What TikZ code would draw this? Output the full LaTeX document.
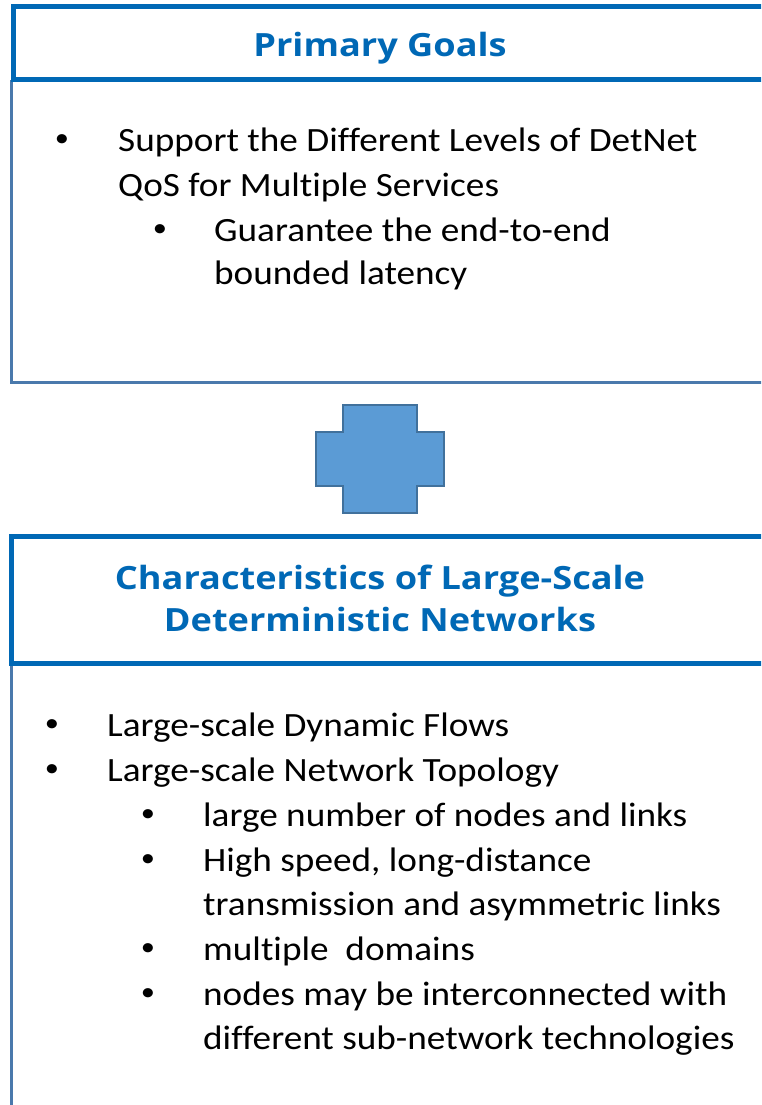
\documentclass[tikz,border=0pt]{standalone}
\usepackage{fontspec}
\setmainfont{Carlito}[FakeStretch=1.095,Ligatures=NoCommon]
\newfontfamily\titlefont{Open Sans}[FakeStretch=1.13]
\definecolor{titleblue}{HTML}{0068B5}
\definecolor{bodyline}{HTML}{4A79AC}
\definecolor{crossfill}{HTML}{5B9BD5}
\definecolor{crossline}{HTML}{41719C}
\tikzset{
  titlebox/.style={draw=titleblue, line width=5pt},
  bodybox/.style={draw=bodyline, line width=3pt},
  titletext/.style={inner sep=0pt, anchor=base, text=titleblue, font=\titlefont\fontsize{32}{42}\selectfont\bfseries},
  bodytext/.style={inner sep=0pt, anchor=base west, font=\fontsize{34}{44}\selectfont},
  bullettext/.style={inner sep=0pt, anchor=center, font=\fontsize{26}{30}\selectfont}
}
\tikzset{
  crossshape/.style={fill=crossfill, draw=crossline, line width=2.5pt, line join=miter}
}
\begin{document}
\begin{tikzpicture}[x=1pt,y=-1pt]
\useasboundingbox (0,0) rectangle (761,1105);
\clip (0,0) rectangle (761,1105);
% top group
\draw[bodybox] (11.5,80) -- (11.5,382.5) -- (800,382.5);
\draw[titlebox] (800,6.5) -- (13.5,6.5) -- (13.5,80) -- (800,80);
\node[titletext] (t1) at (380,57) {Primary Goals};
\node[bullettext] (b1) at (62,141) {•};
\node[bodytext] (l1) at (118,151) {Support the Different Levels of DetNet};
\node[bodytext] (l2) at (118,196) {QoS for Multiple Services};
\node[bullettext] (b2) at (160,231) {•};
\node[bodytext] (l3) at (214,241) {Guarantee the end-to-end};
\node[bodytext] (l4) at (214,284) {bounded latency};
% cross
\draw[crossshape] (316,432) -- (343,432) -- (343,405) -- (417,405) -- (417,432) -- (444,432) -- (444,486) -- (417,486) -- (417,513) -- (343,513) -- (343,486) -- (316,486) -- cycle;
% bottom group
\draw[bodybox] (11.5,663) -- (11.5,1120);
\draw[titlebox] (800,536.5) -- (11.5,536.5) -- (11.5,663) -- (800,663);
\node[titletext] (t2) at (380,589) {Characteristics of Large-Scale};
\node[titletext] (t3) at (380,631) {Deterministic Networks};
\node[bullettext] (c1) at (52,726) {•};
\node[bodytext] (m1) at (107,736) {Large-scale Dynamic Flows};
\node[bullettext] (c2) at (52,771) {•};
\node[bodytext] (m2) at (107,781) {Large-scale Network Topology};
\node[bullettext] (c3) at (148,816) {•};
\node[bodytext] (m3) at (203,826) {large number of nodes and links};
\node[bullettext] (c4) at (148,861) {•};
\node[bodytext] (m4) at (203,871) {High speed, long-distance};
\node[bodytext] (m5) at (203,915) {transmission and asymmetric links};
\node[bullettext] (c5) at (148,950) {•};
\node[bodytext] (m6) at (203,960) {multiple\ \ domains};
\node[bullettext] (c6) at (148,995) {•};
\node[bodytext] (m7) at (203,1005) {nodes may be interconnected with};
\node[bodytext] (m8) at (203,1049) {different sub-network technologies};
\end{tikzpicture}
\end{document}
